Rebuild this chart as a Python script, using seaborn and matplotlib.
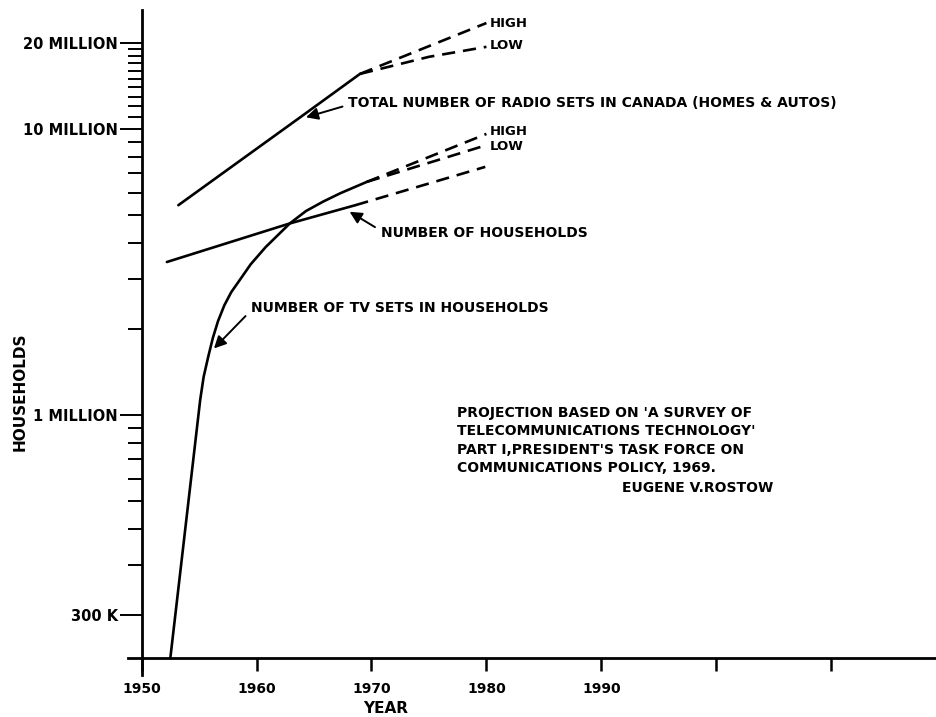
import seaborn as sns
import matplotlib.pyplot as plt
import numpy as np
import pandas as pd
from matplotlib.ticker import NullFormatter

# (log scale, households)
radio_years = [1953.2, 1963.8, 1969.0]
radio_vals = [5.42e6, 11.0e6, 15.6e6]
radio_high_years = [1969.0, 1980.0]
radio_high_vals = [15.6e6, 23.5e6]
radio_low_years = [1969.0, 1975.0, 1980.0]
radio_low_vals = [15.6e6, 17.9e6, 19.4e6]

tv_years = [1952.5, 1955.1, 1955.4, 1955.8, 1956.2, 1956.65, 1957.2, 1957.8,
            1958.6, 1959.5, 1960.8, 1962.9, 1964.3, 1965.8, 1967.3, 1969.6]
tv_vals = [1.41e5, 1.13e6, 1.36e6, 1.60e6, 1.86e6, 2.13e6, 2.42e6, 2.69e6,
           2.99e6, 3.37e6, 3.87e6, 4.68e6, 5.17e6, 5.58e6, 5.97e6, 6.54e6]
tv_high_years = [1969.6, 1980.0]
tv_high_vals = [6.54e6, 9.62e6]
tv_low_years = [1969.6, 1980.0]
tv_low_vals = [6.54e6, 8.79e6]

hh_years = [1952.2, 1962.9, 1968.6]
hh_vals = [3.43e6, 4.68e6, 5.42e6]
hh_proj_years = [1968.6, 1979.9]
hh_proj_vals = [5.42e6, 7.38e6]

year_ticks = [1950, 1960, 1970, 1980, 1990, 2000, 2010]
year_labels = ['1950', '1960', '1970', '1980', '1990', '', '']
y_ticks = [2e5, 1e6, 1e7, 2e7]
y_labels = ['300 K', '1 MILLION', '10 MILLION', '20 MILLION']

sns.set_theme(style='white')
plt.rcParams['font.family'] = ['DejaVu Sans']
plt.rcParams['font.weight'] = 'bold'

fig = plt.figure(figsize=(9.37, 7.17), dpi=100)
ax = fig.add_axes([128 / 937, 42 / 717, 809 / 937, 665 / 717])
ax.set_yscale('log')

solid = dict(color='black', lw=1.9)
dashed = dict(color='black', lw=1.9, linestyle=(0, (5, 3)))

def draw(years, vals, style):
    df = pd.DataFrame({'year': years, 'value': vals})
    sns.lineplot(data=df, x='year', y='value', ax=ax, sort=False,
                 estimator=None, **style)

draw(radio_years, radio_vals, solid)
draw(radio_high_years, radio_high_vals, dashed)
draw(radio_low_years, radio_low_vals, dashed)
draw(tv_years, tv_vals, solid)
draw(tv_high_years, tv_high_vals, dashed)
draw(tv_low_years, tv_low_vals, dashed)
draw(hh_years, hh_vals, solid)
draw(hh_proj_years, hh_proj_vals, dashed)

ax.set_xlim(1948.82, 2019.2)
ax.set_ylim(1.233e5, 2.61e7)

# axes drawn like the drafting original: crossing lines
for s in ['top', 'right']:
    ax.spines[s].set_visible(False)
ax.spines['left'].set_position(('data', 1950))
ax.spines['bottom'].set_position(('data', 1.413e5))
for s in ['left', 'bottom']:
    ax.spines[s].set_linewidth(2.0)
    ax.spines[s].set_color('black')

ax.set_yticks(y_ticks)
ax.set_yticklabels(y_labels)
minor = [m * 1e5 for m in range(3, 10)] + [m * 1e6 for m in range(2, 10)] + \
        [m * 1e6 for m in range(11, 20)]
ax.set_yticks(minor, minor=True)
ax.yaxis.set_minor_formatter(NullFormatter())
ax.set_xticks(year_ticks)
ax.set_xticklabels(year_labels)

ax.tick_params(axis='y', which='major', direction='out', length=16, width=1.4,
               pad=1, labelsize=10.5, colors='black', left=True)
ax.tick_params(axis='y', which='minor', direction='out', length=10, width=1.4,
               colors='black', left=True)
ax.tick_params(axis='x', which='major', direction='out', length=9.5, width=1.8,
               pad=8, labelsize=10, colors='black', bottom=True)
ax.tick_params(axis='x', which='minor', bottom=False)

ax.set_ylabel('HOUSEHOLDS', fontsize=11, fontweight='bold', color='black')
ax.yaxis.set_label_coords(-0.124, 0.4256)
ax.set_xlabel('YEAR', fontsize=11, fontweight='bold', color='black')
ax.xaxis.set_label_coords(0.318, -0.039)


def arrow(rel):
    return dict(arrowstyle='-|>', color='black', lw=1.4, mutation_scale=18,
                shrinkA=2, shrinkB=0, relpos=rel)


txt = dict(fontsize=10, fontweight='bold', color='black', ha='left', va='center')

ax.annotate('TOTAL NUMBER OF RADIO SETS IN CANADA (HOMES & AUTOS)',
            xy=(1964.3, 11.0e6), xytext=(1968.0, 12.3e6),
            arrowprops=arrow((0, 0.4)), **txt)
ax.annotate('NUMBER OF HOUSEHOLDS', xy=(1968.1, 5.14e6),
            xytext=(1970.8, 4.32e6), arrowprops=arrow((0, 0.7)), **txt)
ax.annotate('NUMBER OF TV SETS IN HOUSEHOLDS', xy=(1956.3, 1.71e6),
            xytext=(1959.5, 2.37e6), arrowprops=arrow((0, 0.3)), **txt)

for label, yr, val in [('HIGH', 1980.3, 23.5e6), ('LOW', 1980.3, 19.6e6),
                       ('HIGH', 1980.3, 9.84e6), ('LOW', 1980.3, 8.72e6)]:
    ax.text(yr, val, label, fontsize=9.5, fontweight='bold', ha='left',
            va='center', color='black')

ax.text(1977.4, 1.08e6,
        "PROJECTION BASED ON 'A SURVEY OF\n"
        "TELECOMMUNICATIONS TECHNOLOGY'\n"
        "PART I,PRESIDENT'S TASK FORCE ON\n"
        "COMMUNICATIONS POLICY, 1969.",
        fontsize=10, fontweight='bold', ha='left', va='top',
        linespacing=1.42, color='black')
ax.text(2004.95, 5.56e5, 'EUGENE V.ROSTOW', fontsize=10, fontweight='bold',
        ha='right', va='center', color='black')

fig.savefig('out.png', dpi=100)
